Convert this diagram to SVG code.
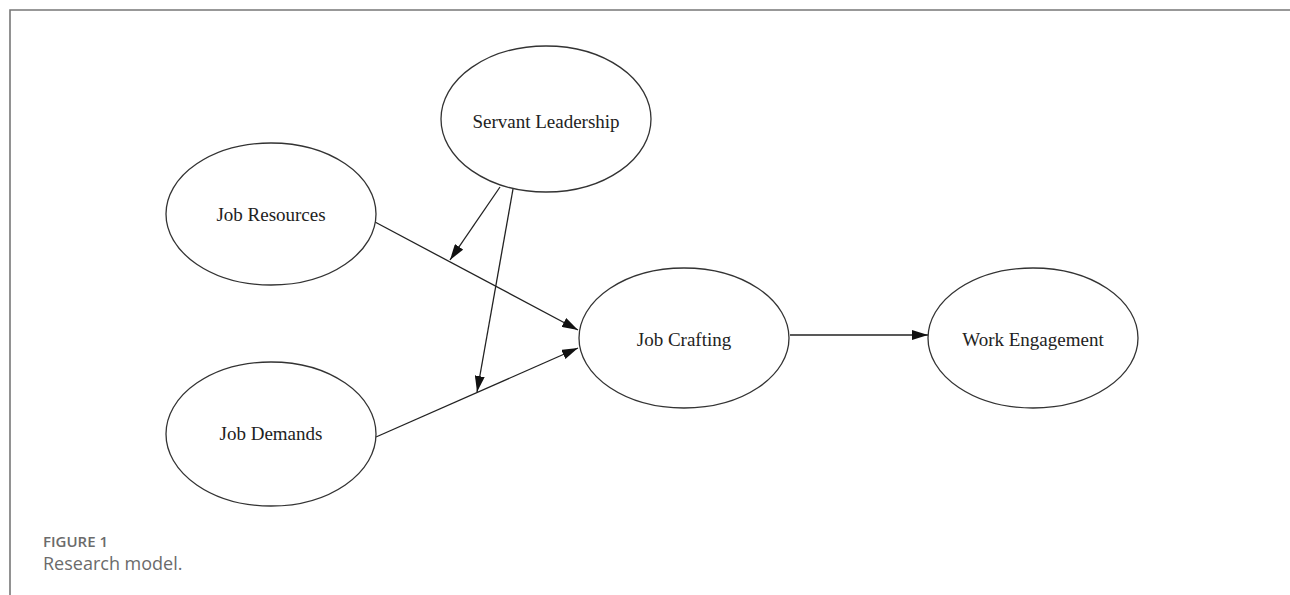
<svg xmlns="http://www.w3.org/2000/svg" width="1290" height="595" viewBox="0 0 1290 595">
<style>
.node ellipse{fill:#fff;stroke:#333;stroke-width:1.3}
.node text{font-family:"Liberation Serif","Times New Roman",serif;font-size:19px;fill:#222;text-anchor:middle;dominant-baseline:central}
.edge{stroke:#222;stroke-width:1.3;fill:none;marker-end:url(#ah)}
.cap1{font-family:"Open Sans",sans-serif;font-size:15px;font-weight:600;fill:#6b6b6b}
.cap2{font-family:"Open Sans",sans-serif;font-size:18px;font-weight:400;fill:#6b6b6b}
</style>
<defs>
<marker id="ah" viewBox="0 0 16 10" refX="16" refY="5" markerWidth="16" markerHeight="10" markerUnits="userSpaceOnUse" orient="auto">
<path d="M0,0 L16,5 L0,10 Z" fill="#111"/>
</marker>
</defs>
<rect width="1290" height="595" fill="#fff"/>
<path d="M10,595 L10,10 L1290,10" fill="none" stroke="#777" stroke-width="1.6"/>
<g id="connectors">
<line class="edge" x1="375" y1="222" x2="578" y2="330"/>
<line class="edge" x1="376" y1="437" x2="578" y2="348"/>
<line class="edge" x1="500" y1="187" x2="450" y2="260"/>
<line class="edge" x1="513" y1="189" x2="477" y2="392"/>
<line class="edge" x1="790" y1="335" x2="928" y2="335"/>
</g>
<g id="servant-leadership" class="node"><ellipse cx="546" cy="119" rx="105" ry="73"/><text x="546" y="121">Servant Leadership</text></g>
<g id="job-resources" class="node"><ellipse cx="271" cy="214" rx="105" ry="71"/><text x="271" y="214">Job Resources</text></g>
<g id="job-demands" class="node"><ellipse cx="271" cy="434" rx="105" ry="72"/><text x="271" y="433">Job Demands</text></g>
<g id="job-crafting" class="node"><ellipse cx="684" cy="338" rx="105" ry="70"/><text x="684" y="339">Job Crafting</text></g>
<g id="work-engagement" class="node"><ellipse cx="1033" cy="338" rx="105" ry="70"/><text x="1033" y="339">Work Engagement</text></g>
<text class="cap1" x="43" y="547">FIGURE 1</text>
<text class="cap2" x="43" y="570">Research model.</text>
</svg>
